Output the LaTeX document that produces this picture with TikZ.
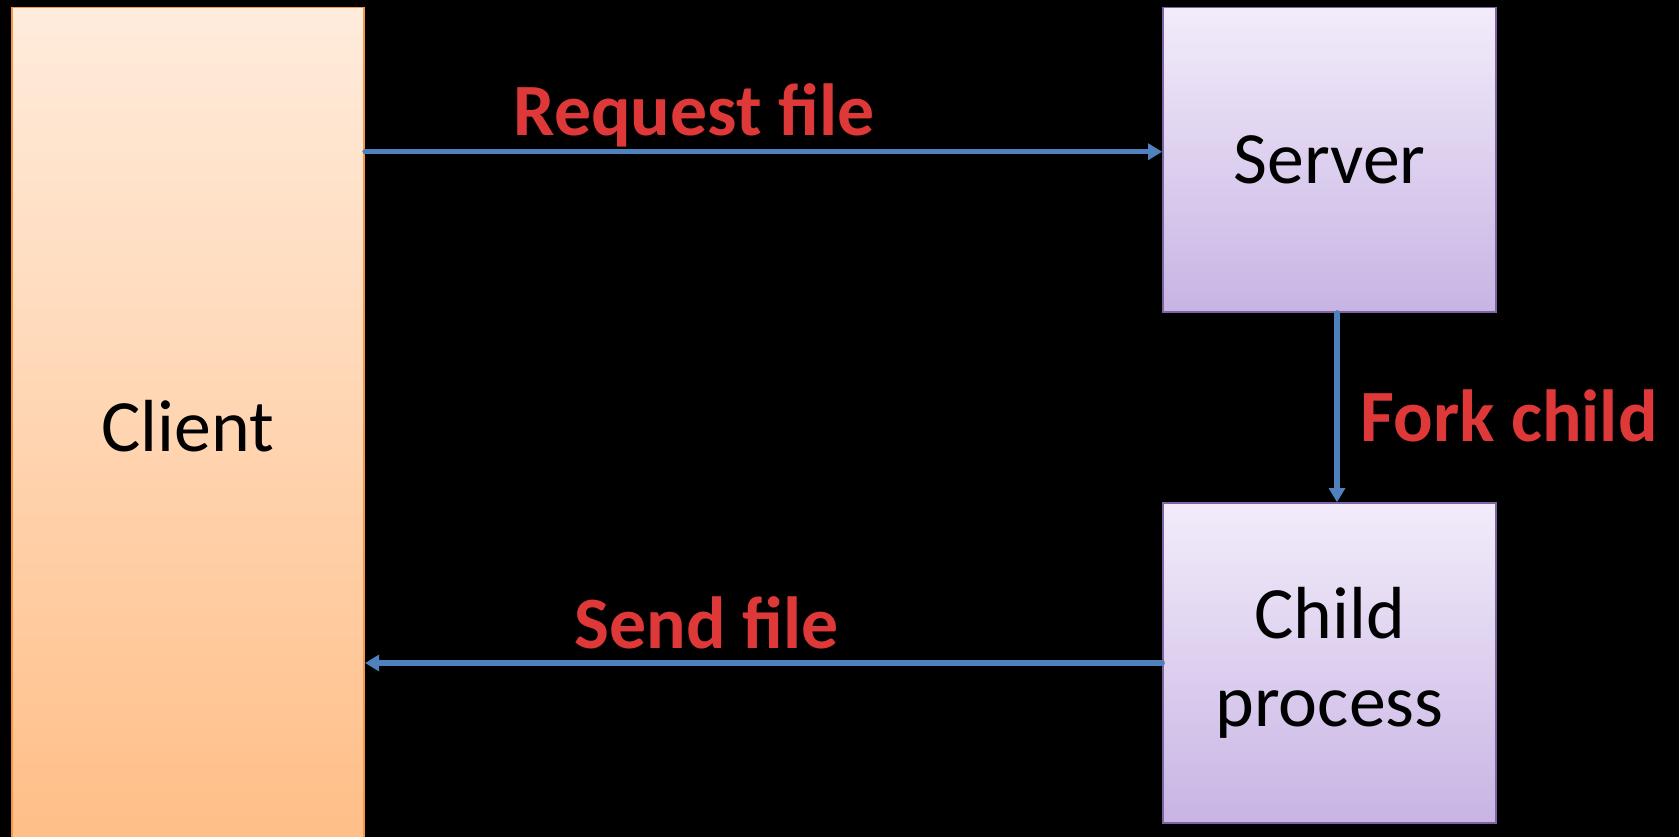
\documentclass[tikz,border=0pt]{standalone}
\usepackage{fontspec}
\setmainfont{Carlito}
\usetikzlibrary{arrows.meta}

\definecolor{peachtop}{RGB}{255,236,220}
\definecolor{peachbot}{RGB}{255,190,135}
\definecolor{peachline}{RGB}{247,150,70}
\definecolor{lilactop}{RGB}{242,236,250}
\definecolor{lilacbot}{RGB}{200,180,228}
\definecolor{lilacline}{RGB}{128,100,162}
\definecolor{flowblue}{RGB}{79,129,189}
\definecolor{labelred}{RGB}{222,56,56}

\begin{document}
\begin{tikzpicture}[x=0.02cm, y=-0.02cm,
    box/.style={draw, line width=0.9pt, inner sep=0pt, align=center,
        font=\fontsize{42}{50}\selectfont},
    clientbox/.style={box, draw=peachline, top color=peachtop, bottom color=peachbot},
    procbox/.style={box, draw=lilacline, top color=lilactop, bottom color=lilacbot,
        minimum width=6.66cm},
    flow/.style={draw=flowblue, line width=3pt, line cap=round,
        -{Triangle[width=9pt, length=8pt]}},
    msg/.style={text=labelred, font=\bfseries\fontsize{42}{50}\selectfont,
        anchor=base, inner sep=0pt}]

    % sfondo nero e cornice
    \fill[black] (0,0) rectangle (1679,837);
    \useasboundingbox (0,0) rectangle (1679,837);

    % -- Client a sinistra (esce dal bordo inferiore) --
    \node[clientbox, minimum width=7.05cm, minimum height=16.75cm] (client) at (188,426) {Client};

    % -- Server e processo figlio a destra --
    \node[procbox, minimum height=6.09cm] (server) at (1329.5,159.75) {Server};
    \node[procbox, minimum height=6.4cm] (child) at (1329.5,663) {Child\\process};

    % frecce
    \draw[flow] ([yshift=0.16cm]server.west -| client.east) -- ([yshift=0.16cm]server.west);
    \draw[flow] ([xshift=0.15cm]server.south) -- ([xshift=0.15cm]server.south |- child.north);
    \draw[flow] (child.west) -- (child.west -| client.east);

    % etichette rosse
    \node[msg] (reqlabel) at (694,136) {Request file};
    \node[msg, anchor=base west] (forklabel) at (1360,441) {Fork child};
    \node[msg] (sendlabel) at (707,648) {Send file};
\end{tikzpicture}
\end{document}
